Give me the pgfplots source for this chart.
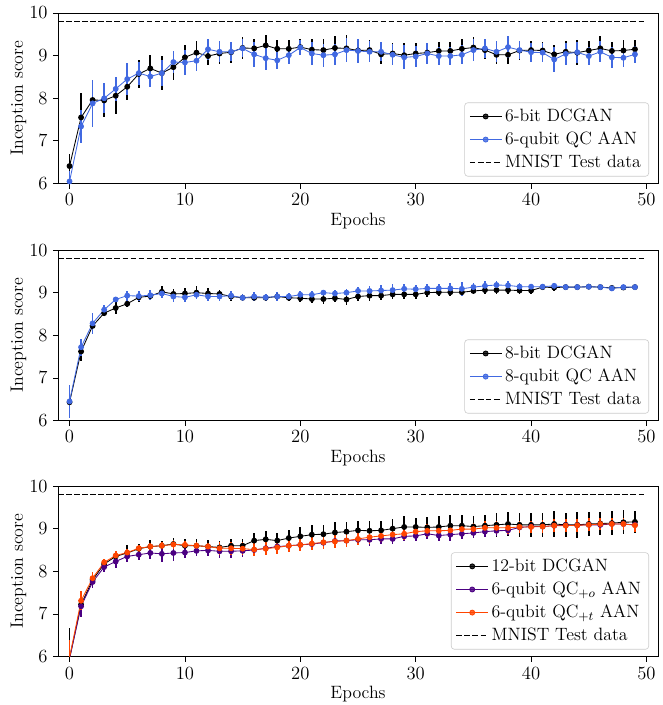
\documentclass[border=0pt]{standalone}
\usepackage{pgfplots}
\usepackage{pgfplotstable}
\pgfplotsset{compat=1.18}
\definecolor{rblue}{RGB}{65,105,225}
\definecolor{indig}{RGB}{75,0,130}
\definecolor{ored}{RGB}{255,69,0}
\newcommand{\fsz}{\fontsize{11.5}{13.8}\selectfont}

\pgfplotstableread{
x y e
0 6.41 0.29
1 7.55 0.57
2 7.96 0.25
3 7.95 0.40
4 8.06 0.44
5 8.27 0.30
6 8.57 0.32
7 8.70 0.31
8 8.59 0.40
9 8.73 0.30
10 8.96 0.29
11 9.07 0.28
12 8.99 0.22
13 9.05 0.25
14 9.08 0.25
15 9.18 0.26
16 9.17 0.21
17 9.24 0.25
18 9.16 0.21
19 9.16 0.21
20 9.20 0.18
21 9.14 0.24
22 9.13 0.27
23 9.18 0.27
24 9.17 0.31
25 9.12 0.25
26 9.13 0.23
27 9.03 0.22
28 9.05 0.25
29 9.01 0.28
30 9.05 0.25
31 9.07 0.22
32 9.11 0.22
33 9.11 0.20
34 9.16 0.22
35 9.19 0.25
36 9.13 0.22
37 9.02 0.22
38 9.02 0.22
39 9.12 0.22
40 9.13 0.22
41 9.12 0.20
42 9.03 0.22
43 9.09 0.25
44 9.07 0.30
45 9.12 0.22
46 9.17 0.28
47 9.11 0.22
48 9.12 0.25
49 9.15 0.22
}\tAblack
\pgfplotstableread{
x y e
0 6.05 0.25
1 7.34 0.38
2 7.88 0.56
3 8.00 0.35
4 8.22 0.28
5 8.45 0.37
6 8.59 0.27
7 8.51 0.24
8 8.59 0.31
9 8.85 0.26
10 8.84 0.29
11 8.88 0.24
12 9.15 0.25
13 9.09 0.25
14 9.09 0.22
15 9.17 0.21
16 9.03 0.29
17 8.94 0.27
18 8.89 0.20
19 9.01 0.21
20 9.19 0.18
21 9.05 0.27
22 9.01 0.27
23 9.03 0.25
24 9.13 0.28
25 9.11 0.28
26 9.09 0.25
27 9.09 0.22
28 9.02 0.25
29 8.96 0.28
30 8.98 0.25
31 9.05 0.25
32 8.99 0.22
33 8.99 0.22
34 9.02 0.22
35 9.13 0.25
36 9.17 0.22
37 9.09 0.25
38 9.20 0.25
39 9.13 0.22
40 9.08 0.22
41 9.07 0.22
42 8.91 0.30
43 9.04 0.25
44 9.08 0.25
45 8.99 0.22
46 9.09 0.25
47 8.96 0.25
48 8.95 0.22
49 9.03 0.20
}\tAblue
\pgfplotstableread{
x y e
0 6.43 0.30
1 7.62 0.23
2 8.22 0.10
3 8.52 0.06
4 8.64 0.13
5 8.74 0.08
6 8.89 0.10
7 8.92 0.10
8 9.02 0.13
9 8.97 0.12
10 8.98 0.12
11 9.00 0.16
12 8.98 0.12
13 8.97 0.10
14 8.91 0.10
15 8.88 0.08
16 8.88 0.08
17 8.88 0.07
18 8.91 0.10
19 8.88 0.08
20 8.87 0.10
21 8.85 0.10
22 8.85 0.12
23 8.87 0.10
24 8.84 0.12
25 8.91 0.10
26 8.93 0.12
27 8.93 0.10
28 8.96 0.10
29 8.96 0.10
30 8.96 0.12
31 9.00 0.10
32 9.01 0.10
33 9.01 0.10
34 9.01 0.10
35 9.04 0.08
36 9.06 0.08
37 9.06 0.08
38 9.06 0.08
39 9.05 0.08
40 9.05 0.08
41 9.13 0.06
42 9.12 0.08
43 9.13 0.06
44 9.13 0.05
45 9.14 0.06
46 9.13 0.06
47 9.11 0.05
48 9.12 0.05
49 9.13 0.05
}\tBblack
\pgfplotstableread{
x y e
0 6.45 0.38
1 7.72 0.20
2 8.28 0.25
3 8.60 0.10
4 8.84 0.06
5 8.93 0.12
6 8.92 0.12
7 8.94 0.12
8 8.98 0.10
9 8.91 0.14
10 8.89 0.12
11 8.95 0.10
12 8.91 0.10
13 8.91 0.10
14 8.93 0.10
15 8.88 0.08
16 8.91 0.10
17 8.89 0.08
18 8.91 0.10
19 8.91 0.08
20 8.95 0.08
21 8.95 0.08
22 9.00 0.06
23 8.98 0.08
24 9.00 0.08
25 9.04 0.10
26 9.04 0.12
27 9.05 0.12
28 9.06 0.14
29 9.09 0.12
30 9.08 0.10
31 9.10 0.10
32 9.10 0.10
33 9.10 0.12
34 9.09 0.16
35 9.13 0.10
36 9.16 0.12
37 9.18 0.10
38 9.17 0.10
39 9.14 0.08
40 9.14 0.06
41 9.14 0.05
42 9.16 0.06
43 9.13 0.06
44 9.13 0.05
45 9.14 0.05
46 9.13 0.05
47 9.10 0.05
48 9.13 0.05
49 9.13 0.05
}\tBblue
\pgfplotstableread{
x y e
0 5.96 0.70
1 7.22 0.30
2 7.80 0.12
3 8.17 0.10
4 8.35 0.12
5 8.43 0.18
6 8.53 0.12
7 8.58 0.15
8 8.60 0.12
9 8.64 0.14
10 8.60 0.15
11 8.60 0.15
12 8.58 0.15
13 8.56 0.15
14 8.60 0.15
15 8.60 0.15
16 8.72 0.18
17 8.75 0.20
18 8.72 0.18
19 8.78 0.20
20 8.82 0.22
21 8.86 0.22
22 8.87 0.22
23 8.91 0.24
24 8.93 0.22
25 8.96 0.22
26 8.95 0.22
27 8.96 0.22
28 9.00 0.22
29 9.04 0.25
30 9.04 0.22
31 9.03 0.25
32 9.04 0.25
33 9.07 0.25
34 9.07 0.25
35 9.05 0.25
36 9.07 0.25
37 9.09 0.28
38 9.11 0.28
39 9.09 0.28
40 9.09 0.28
41 9.09 0.28
42 9.11 0.30
43 9.09 0.28
44 9.09 0.30
45 9.11 0.28
46 9.12 0.28
47 9.13 0.28
48 9.15 0.28
49 9.16 0.26
}\tCblack
\pgfplotstableread{
x y e
0 5.95 0.30
1 7.18 0.25
2 7.75 0.15
3 8.10 0.12
4 8.23 0.15
5 8.35 0.12
6 8.39 0.12
7 8.43 0.15
8 8.41 0.18
9 8.43 0.18
10 8.44 0.12
11 8.48 0.12
12 8.49 0.12
13 8.47 0.15
14 8.47 0.15
15 8.48 0.15
16 8.50 0.15
17 8.54 0.12
18 8.58 0.12
19 8.60 0.12
20 8.62 0.12
21 8.64 0.12
22 8.67 0.12
23 8.71 0.12
24 8.72 0.12
25 8.74 0.12
26 8.74 0.15
27 8.76 0.12
28 8.76 0.12
29 8.82 0.12
30 8.83 0.12
31 8.88 0.12
32 8.84 0.12
33 8.86 0.15
34 8.88 0.12
35 8.90 0.12
36 8.93 0.12
37 8.95 0.12
38 8.96 0.12
39 9.03 0.12
40 9.05 0.12
41 9.05 0.12
42 9.07 0.12
43 9.08 0.12
44 9.08 0.12
45 9.09 0.12
46 9.09 0.12
47 9.11 0.12
48 9.11 0.12
49 9.09 0.12
}\tCpurple
\pgfplotstableread{
x y e
0 5.98 0.40
1 7.31 0.22
2 7.84 0.15
3 8.21 0.08
4 8.37 0.10
5 8.44 0.08
6 8.54 0.08
7 8.58 0.08
8 8.60 0.08
9 8.63 0.10
10 8.62 0.08
11 8.60 0.08
12 8.58 0.08
13 8.54 0.15
14 8.54 0.15
15 8.53 0.15
16 8.51 0.15
17 8.53 0.15
18 8.56 0.15
19 8.60 0.15
20 8.62 0.15
21 8.65 0.15
22 8.68 0.15
23 8.70 0.15
24 8.72 0.15
25 8.76 0.15
26 8.80 0.15
27 8.83 0.15
28 8.86 0.15
29 8.88 0.15
30 8.93 0.15
31 8.95 0.15
32 8.95 0.15
33 8.96 0.15
34 8.99 0.15
35 8.99 0.15
36 9.02 0.15
37 9.02 0.15
38 9.02 0.15
39 9.04 0.15
40 9.04 0.15
41 9.05 0.15
42 9.07 0.15
43 9.07 0.15
44 9.08 0.15
45 9.09 0.15
46 9.11 0.15
47 9.11 0.15
48 9.11 0.15
49 9.08 0.15
}\tCorange

\pgfplotsset{
  panel/.style={
    anchor=north west,
    width=387pt, height=110pt, scale only axis,
    xmin=-1, xmax=51, ymin=6, ymax=10,
    xtick={0,10,...,50}, ytick={6,7,8,9,10},
    tick align=outside, xtick pos=bottom, ytick pos=left,
    major tick length=3.2pt,
    tick style={black, line width=0.55pt},
    axis line style={line width=0.55pt},
    tick label style={font=\fsz},
    xlabel={Epochs}, ylabel={Inception score},
    label style={font=\fsz},
    xlabel style={at={(axis description cs:0.5,0)}, anchor=base, yshift=-26.8pt},
    ylabel style={at={(axis description cs:-0.066,0.5)}, anchor=center},
    legend cell align=left,
    legend style={at={(0.985,0.041)}, anchor=south east, draw=black!20, rounded corners=2pt,
      fill=white, fill opacity=0.8, text opacity=1, row sep=1.2pt, font=\fsz},
    legend image code/.code={\draw[mark repeat=2,mark phase=2] plot coordinates {(0cm,0cm)(0.36cm,0cm)(0.72cm,0cm)};},
    every axis plot/.append style={line width=0.55pt},
  },
  ser/.style={#1, mark=*, mark size=1.6pt, mark options={solid, #1},
    error bars/.cd, y dir=both, y explicit, error mark=none,
    error bar style={line width=1.1pt, #1}},
  mnist/.style={black, dashed, dash pattern=on 3.6pt off 1.6pt, line width=0.6pt, mark=none},
}

\begin{document}
\begin{tikzpicture}
\path[use as bounding box] (0pt,0pt) rectangle (427.6pt,-454.7pt);

\begin{axis}[panel, at={(37.41pt,-8.385pt)}]
\addplot+[ser=black] table[x=x, y=y, y error=e] {\tAblack};
\addlegendentry{6-bit DCGAN}
\addplot+[ser=rblue] table[x=x, y=y, y error=e] {\tAblue};
\addlegendentry{6-qubit QC AAN}
\addplot[mnist] coordinates {(-1,9.81) (50,9.81)};
\addlegendentry{MNIST Test data}
\end{axis}

\begin{axis}[panel, at={(37.41pt,-161.25pt)}]
\addplot+[ser=black] table[x=x, y=y, y error=e] {\tBblack};
\addlegendentry{8-bit DCGAN}
\addplot+[ser=rblue] table[x=x, y=y, y error=e] {\tBblue};
\addlegendentry{8-qubit QC AAN}
\addplot[mnist] coordinates {(-1,9.81) (50,9.81)};
\addlegendentry{MNIST Test data}
\end{axis}

\begin{axis}[panel, at={(37.41pt,-313.47pt)}]
\addplot+[ser=black] table[x=x, y=y, y error=e] {\tCblack};
\addlegendentry{12-bit DCGAN}
\addplot+[ser=indig] table[x=x, y=y, y error=e] {\tCpurple};
\addlegendentry{6-qubit QC$_{+o}$ AAN}
\addplot+[ser=ored] table[x=x, y=y, y error=e] {\tCorange};
\addlegendentry{6-qubit QC$_{+t}$ AAN}
\addplot[mnist] coordinates {(-1,9.81) (50,9.81)};
\addlegendentry{MNIST Test data}
\end{axis}
\end{tikzpicture}
\end{document}
